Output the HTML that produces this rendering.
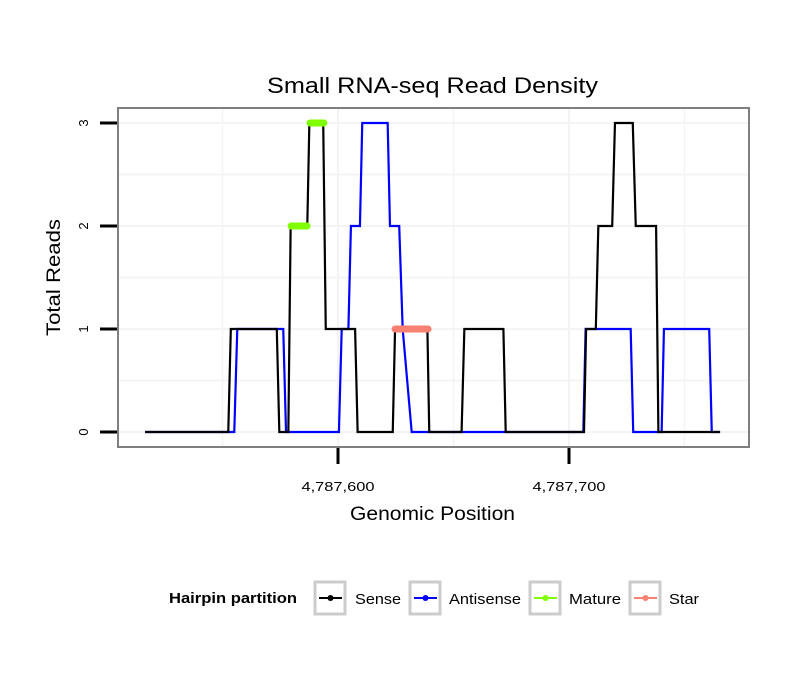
<!DOCTYPE html>
<html><head><meta charset="utf-8"><style>
body{margin:0;background:#fff;}
svg{display:block;font-family:"Liberation Sans",sans-serif;}
</style></head><body>
<svg id="chart" width="810" height="690">
<rect x="0" y="0" width="810" height="690" fill="#fff"/>
<text x="267" y="93" font-size="22" textLength="331" lengthAdjust="spacingAndGlyphs">Small RNA-seq Read Density</text>
<g id="grid"></g>
<g id="marks"></g>
<rect x="118" y="108" width="631" height="339" fill="none" stroke="#7f7f7f" stroke-width="2"/>
<g id="axes"></g>
<text transform="translate(60,336) rotate(-90)" font-size="19" textLength="117" lengthAdjust="spacingAndGlyphs">Total Reads</text>
<text x="350" y="520" font-size="19" textLength="165" lengthAdjust="spacingAndGlyphs">Genomic Position</text>
<g>
<text x="169" y="603" font-size="15" font-weight="bold" textLength="128" lengthAdjust="spacingAndGlyphs">Hairpin partition</text>
<g><rect x="315" y="582" width="30" height="32" fill="#fff" stroke="#cccccc" stroke-width="3"/><line x1="319" y1="598" x2="342" y2="598" stroke="#000" stroke-width="2"/><circle cx="330.5" cy="598" r="3" fill="#000"/><text x="355" y="604" font-size="15" textLength="46" lengthAdjust="spacingAndGlyphs">Sense</text></g>
<g><rect x="410" y="582" width="30" height="32" fill="#fff" stroke="#cccccc" stroke-width="3"/><line x1="414" y1="598" x2="437" y2="598" stroke="#0000ff" stroke-width="2"/><circle cx="425.5" cy="598" r="3" fill="#0000ff"/><text x="449" y="604" font-size="15" textLength="72" lengthAdjust="spacingAndGlyphs">Antisense</text></g>
<g><rect x="530" y="582" width="30" height="32" fill="#fff" stroke="#cccccc" stroke-width="3"/><line x1="534" y1="598" x2="557" y2="598" stroke="#7fff00" stroke-width="2"/><circle cx="545.5" cy="598" r="3" fill="#7fff00"/><text x="569" y="604" font-size="15" textLength="52" lengthAdjust="spacingAndGlyphs">Mature</text></g>
<g><rect x="630" y="582" width="30" height="32" fill="#fff" stroke="#cccccc" stroke-width="3"/><line x1="634" y1="598" x2="657" y2="598" stroke="#fa8072" stroke-width="2"/><circle cx="645.5" cy="598" r="3" fill="#fa8072"/><text x="669" y="604" font-size="15" textLength="30" lengthAdjust="spacingAndGlyphs">Star</text></g>
</g>
</svg>
<script>
const BASE = 4787600;
const senseX = [-83.5,-47.5,-46.4,-26.5,-25.4,-21.5,-20.5,-13.3,-12.4,-6.4,-5.3,7.4,8.5,23.7,24.7,38.7,39.5,53.5,54.7,71.6,72.6,106.5,107.4,111.6,112.7,118.7,119.9,127.6,128.9,137.7,138.7,165.4];
const senseY = [0,0,1,1,0,0,2,2,3,3,1,1,0,0,1,1,0,0,1,1,0,0,1,1,2,2,3,3,2,2,0,0];
const antiX = [-83.5,-44.9,-43.6,-23.7,-22.5,0.4,1.6,4.5,5.6,9.5,10.5,21.5,22.5,26.5,28,31.9,106.2,107.2,126.7,127.8,140.1,141.1,160.7,161.8,165.4];
const antiY = [0,0,1,1,0,0,1,1,2,2,3,3,2,2,1,0,0,1,1,0,0,1,1,0,0];
const matureStart = [-20.3,-12.1];
const matureEnd = [-13.4,-6.1];
const matureY = [2,3];
const starStart = [24.7];
const starEnd = [39.0];
const starY = [1];
const yTicks = [0,1,2,3];
const xTicks = [0,100];
const xTickLabels = ["4,787,600","4,787,700"];
const xGrid = [-50,0,50,100,150];
const yGrid = [0,0.5,1,1.5,2,2.5,3];

const NS="http://www.w3.org/2000/svg";
function xs(v){return 338+2.31*v;}
function ys(v){return 432-103*v;}
function mk(tag,attrs,parent){const e=document.createElementNS(NS,tag);for(const k in attrs)e.setAttribute(k,attrs[k]);parent.appendChild(e);return e;}
const grid=document.getElementById('grid'),marks=document.getElementById('marks'),axes=document.getElementById('axes');
xGrid.forEach(v=>{const l=mk('line',{x1:xs(v),x2:xs(v),y1:109,y2:446,stroke:'#f4f4f4','stroke-width':Number.isInteger(v/100)?2:1.5},grid);

});
yGrid.forEach(v=>{const l=mk('line',{x1:119,x2:748,y1:ys(v),y2:ys(v),stroke:'#f4f4f4','stroke-width':2},grid);

});
function poly(X,Y,color,name){const pts=X.map((x,i)=>xs(x)+','+ys(Y[i])).join(' ');
const p=mk('polyline',{points:pts,fill:'none',stroke:color,'stroke-width':2.2,'stroke-linejoin':'miter'},marks);

}
poly(antiX,antiY,'#0000ff','antisense-line');
poly(senseX,senseY,'#000000','sense-line');
function seg(S,E,Y,color,name){S.forEach((s,i)=>{const l=mk('line',{x1:xs(s),x2:xs(E[i]),y1:ys(Y[i]),y2:ys(Y[i]),stroke:color,'stroke-width':7,'stroke-linecap':'round'},marks);

});}
seg(matureStart,matureEnd,matureY,'#7fff00','mature-segment');
seg(starStart,starEnd,starY,'#fa8072','star-segment');
yTicks.forEach(v=>{const l=mk('line',{x1:100,x2:117,y1:ys(v),y2:ys(v),stroke:'#000','stroke-width':3},axes);


const t=mk('text',{transform:'translate('+88+','+ys(v)+') rotate(-90)','text-anchor':'middle','font-size':13},axes);t.textContent=v;

});
xTicks.forEach((v,i)=>{const l=mk('line',{x1:xs(v),x2:xs(v),y1:448,y2:464,stroke:'#000','stroke-width':3},axes);


const t=mk('text',{x:xs(v)-36.5,y:491,'font-size':13,textLength:73,lengthAdjust:'spacingAndGlyphs'},axes);t.textContent=xTickLabels[i];

});
</script>
</body></html>
